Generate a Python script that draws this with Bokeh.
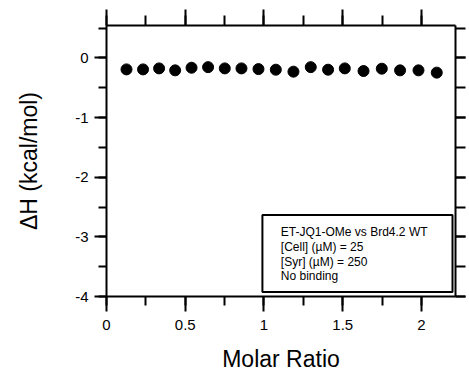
from bokeh.plotting import figure
from bokeh.models import Range1d, LinearAxis, SingleIntervalTicker, BoxAnnotation, Label
from bokeh.embed import file_html
from bokeh.resources import INLINE

# ---- data ----
molar_ratio = [0.127, 0.232, 0.334, 0.436, 0.540, 0.645, 0.751, 0.857, 0.965, 1.075,
               1.187, 1.297, 1.407, 1.513, 1.632, 1.748, 1.864, 1.981, 2.097]
delta_h = [-0.193, -0.193, -0.176, -0.209, -0.165, -0.155, -0.176, -0.176, -0.188, -0.198,
           -0.231, -0.155, -0.198, -0.176, -0.220, -0.181, -0.209, -0.209, -0.247]
x_ticks = [0, 0.5, 1, 1.5, 2]
x_tick_labels = ["0", "0.5", "1", "1.5", "2"]
y_ticks = [0, -1, -2, -3, -4]
y_tick_labels = ["0", "-1", "-2", "-3", "-4"]
info_lines = ["ET-JQ1-OMe vs  Brd4.2 WT", "[Cell] (\u00b5M) = 25", "[Syr] (\u00b5M) = 250", "No binding"]

FONT = "Liberation Sans"
AX = "black"

p = figure(width=469, height=374, output_backend="svg", toolbar_location=None,
           x_range=Range1d(0, 2.216), y_range=Range1d(-4, 0.543),
           min_border_left=106, min_border_right=14, min_border_top=25, min_border_bottom=73,
           x_axis_location=None, y_axis_location=None)
p.grid.visible = False
p.outline_line_color = None
p.background_fill_color = "white"
p.border_fill_color = "white"

def style(ax, maj, mnr):
    ax.axis_line_color = AX
    ax.axis_line_width = 2
    ax.major_tick_line_color = AX
    ax.minor_tick_line_color = AX
    ax.major_tick_line_width = 2
    ax.minor_tick_line_width = 2
    ax.major_tick_in = 0
    ax.minor_tick_in = 0
    ax.major_tick_out = maj
    ax.minor_tick_out = mnr
    ax.major_label_text_font = FONT
    ax.major_label_text_color = "black"
    ax.major_label_text_font_size = "15px"
    ax.axis_label_text_font = FONT
    ax.axis_label_text_font_style = "normal"
    ax.axis_label_text_color = "black"
    ax.axis_label_text_font_size = "23px"

xt = lambda: SingleIntervalTicker(interval=0.5, num_minor_ticks=2)
yt = lambda: SingleIntervalTicker(interval=1, num_minor_ticks=2)

bottom = LinearAxis(ticker=xt(), axis_label="Molar Ratio")
style(bottom, 15, 9)
bottom.major_label_overrides = {v: s for v, s in zip(x_ticks, x_tick_labels)}
bottom.major_label_standoff = 8
bottom.axis_label_standoff = 13
p.add_layout(bottom, "below")

top = LinearAxis(ticker=xt())
style(top, 16, 10)
top.major_label_overrides = {v: "" for v in x_ticks}
p.add_layout(top, "above")

left = LinearAxis(ticker=yt(), axis_label="\u0394H (kcal/mol)")
style(left, 12, 8)
left.major_label_overrides = {v: s for v, s in zip(y_ticks, y_tick_labels)}
left.major_label_standoff = 6
left.axis_label_standoff = 30
p.add_layout(left, "left")

right = LinearAxis(ticker=yt())
style(right, 10, 10)
right.major_label_overrides = {v: "" for v in y_ticks}
p.add_layout(right, "right")

p.scatter(molar_ratio, delta_h, size=11, color="black", marker="circle")

box = BoxAnnotation(left=0.990, right=2.197, top=-2.634, bottom=-3.924,
                    fill_color="white", fill_alpha=1.0,
                    line_color="black", line_alpha=1.0, line_width=2)
p.add_layout(box)

line_y = [-2.925, -3.170, -3.415, -3.661]
for txt, yy in zip(info_lines, line_y):
    p.add_layout(Label(x=1.107, y=yy, text=txt, text_font=FONT, text_font_size="12px",
                       text_baseline="middle", text_color="black"))

open("out.html", "w").write(file_html(p, INLINE))
